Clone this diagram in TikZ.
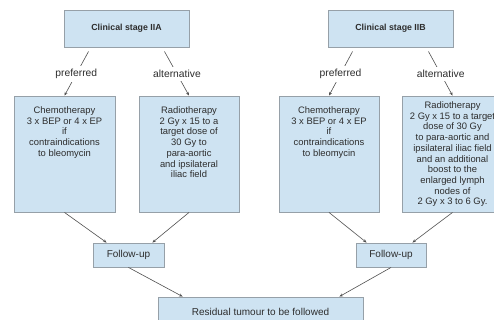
\documentclass[tikz,border=0pt]{standalone}
\usepackage{fontspec}
\setmainfont{Liberation Sans}
\usetikzlibrary{arrows.meta,calc}
\definecolor{boxfill}{RGB}{206,227,242}
\definecolor{boxline}{RGB}{150,160,168}
\definecolor{txtcol}{RGB}{45,45,45}
\definecolor{arrcol}{RGB}{80,80,80}
\tikzset{
  box/.style={draw=boxline, fill=boxfill, line width=0.9pt, inner sep=0pt, text=txtcol,
    font=\fontsize{10}{12}\selectfont},
  boxtext/.style={text=txtcol, align=center, inner sep=0pt,
    font=\fontsize{9.4}{10.7}\selectfont},
  conn/.style={draw=arrcol, line width=0.6pt, -{Stealth[length=3.5pt,width=3pt]}},
  choice/.style={fill=white, inner sep=3pt, text=txtcol, font=\fontsize{10.3}{12}\selectfont},
}
\begin{document}
\begin{tikzpicture}[x=1pt,y=-1pt]
\path[use as bounding box, clip] (0,0) rectangle (494,320);
\fill[white] (0,0) rectangle (494,320);
% top boxes
\node[box, minimum width=125pt, minimum height=37pt] (c1) at (126.5,28.5)
  {\fontsize{8.8}{10}\selectfont\bfseries Clinical stage IIA};
\node[box, minimum width=125pt, minimum height=37pt] (c2) at (390.5,28.5)
  {\fontsize{8.8}{10}\selectfont\bfseries Clinical stage IIB};
% treatment boxes
\node[box, minimum width=101pt, minimum height=116pt,
  label={[boxtext, anchor=north, yshift=-11pt]north:{Chemotherapy\\3 x BEP or 4 x EP\\if\\contraindications\\to bleomycin}}]
  (chemo1) at (64.5,154) {};
\node[box, minimum width=100pt, minimum height=116pt,
  label={[boxtext, anchor=north, yshift=-11pt]north:{Radiotherapy\\2 Gy x 15 to a\\target dose of\\30 Gy to\\para-aortic\\and ipsilateral\\iliac field}}]
  (radio1) at (189,154) {};
\node[box, minimum width=100pt, minimum height=116pt,
  label={[boxtext, anchor=north, yshift=-11pt]north:{Chemotherapy\\3 x BEP or 4 x EP\\if\\contraindications\\to bleomycin}}]
  (chemo2) at (329,154) {};
\node[box, minimum width=101pt, minimum height=116pt,
  label={[boxtext, anchor=north, yshift=-6pt]north:{Radiotherapy\\2 Gy x 15 to a target\\dose of 30 Gy\\to para-aortic and\\ipsilateral iliac field\\and an additional\\boost to the\\enlarged lymph\\nodes of\\2 Gy x 3 to 6 Gy.}}]
  (radio2) at (452.5,154) {};
% follow-up
\node[box, minimum width=71pt, minimum height=24pt] (f1) at (128.5,255) {Follow-up};
\node[box, minimum width=70pt, minimum height=24pt] (f2) at (391,255) {Follow-up};
% residual
\node[box, minimum width=205pt, minimum height=30pt] (res) at (260.5,312) {Residual tumour to be followed};
% connectors with choices
\draw[conn] ($(c1.south west)+(25,4)$) -- node[choice, pos=0.51] (p1) {preferred} (chemo1.north);
\draw[conn] ($(c1.south east)+(-25,4)$) -- node[choice, pos=0.51] (a1) {alternative} (radio1.north);
\draw[conn] ($(c2.south west)+(25,4)$) -- node[choice, pos=0.51] (p2) {preferred} (chemo2.north);
\draw[conn] ($(c2.south east)+(-25,4)$) -- node[choice, pos=0.51] (a2) {alternative} (radio2.north);
% to follow-up
\draw[conn] (chemo1.south) -- ($(f1.north west)+(14,0)$);
\draw[conn] (radio1.south) -- ($(f1.north east)+(-12,0)$);
\draw[conn] (chemo2.south) -- ($(f2.north west)+(11,0)$);
\draw[conn] (radio2.south) -- ($(f2.north east)+(-14,0)$);
% to residual
\draw[conn] (f1.south) -- ($(res.north west)+(25,0)$);
\draw[conn] (f2.south) -- ($(res.north east)+(-24,0)$);
\end{tikzpicture}
\end{document}
